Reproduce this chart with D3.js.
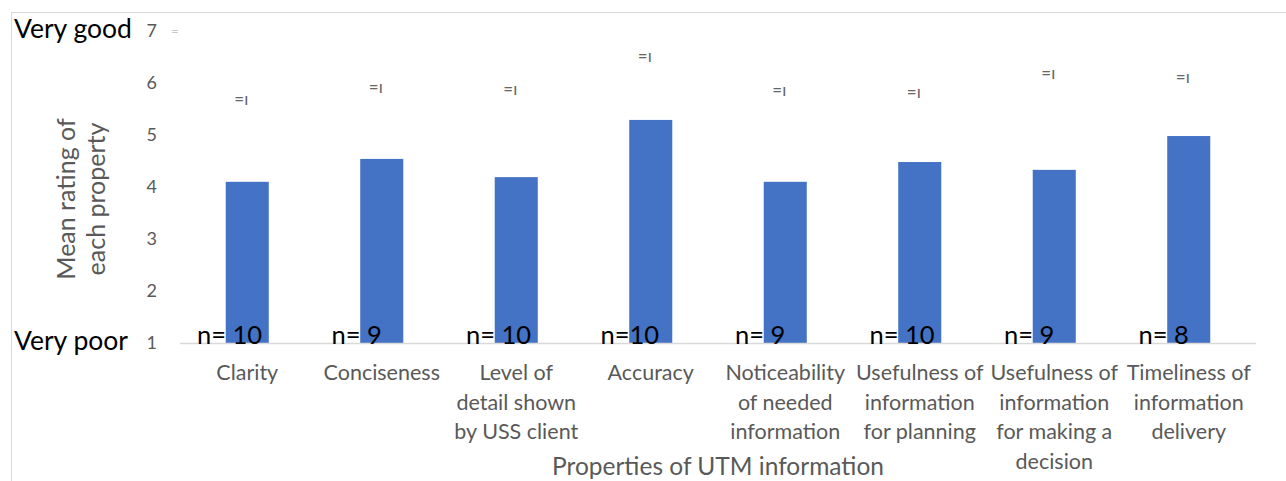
<!DOCTYPE html>
<html><head><meta charset="utf-8">
<script src="https://cdn.jsdelivr.net/npm/d3@7"></script>
<style>body{margin:0;background:#fff;} svg{display:block;font-family:Lato,"Open Sans",sans-serif;}</style>
</head><body><svg id="c" width="1286" height="481"></svg>
<script>
const categories = [
  ["Clarity"],
  ["Conciseness"],
  ["Level of","detail shown","by USS client"],
  ["Accuracy"],
  ["Noticeability","of needed","information"],
  ["Usefulness of","information","for planning"],
  ["Usefulness of","information","for making a","decision"],
  ["Timeliness of","information","delivery"]
];
const meanRating = [4.10, 4.54, 4.19, 5.29, 4.10, 4.48, 4.33, 4.98];
const nLabels = ["n= 10","n= 9","n= 10","n=10","n= 9","n= 10","n= 9","n= 8"];
const markValues = [5.69, 5.93, 5.88, 6.51, 5.87, 5.83, 6.20, 6.12];
const yTicks = [1,2,3,4,5,6,7];
const yEndLabels = [{v:7, t:"Very good"}, {v:1, t:"Very poor"}];

const svg = d3.select("#c");
svg.append("rect").attr("x",11.5).attr("y",12.5).attr("width",1300).attr("height",500)
  .attr("fill","none").attr("stroke","#d9d9d9").attr("stroke-width",1);

const x = d3.scaleBand().domain(d3.range(categories.length)).range([180,1256]).paddingInner(0).paddingOuter(0);
const y = d3.scaleLinear().domain([1,7]).range([343,31]);
const bw = x.bandwidth()*0.32;

// bars
svg.selectAll("rect.bar").data(meanRating).join("rect").attr("class","bar")
  .attr("x",(d,i)=>x(i)+x.bandwidth()/2-bw/2).attr("width",bw)
  .attr("y",d=>y(d)).attr("height",d=>y(1)-y(d)).attr("fill","#4472C4");

// x axis line
svg.append("line").attr("x1",180).attr("x2",1256).attr("y1",y(1)+0.5).attr("y2",y(1)+0.5)
  .attr("stroke","#d9d9d9").attr("stroke-width",1.3);

// y tick labels
const yAxis = d3.axisLeft(y).tickValues(yTicks).tickSize(0).tickPadding(0).tickFormat(d3.format("d"));
const ga = svg.append("g").attr("transform","translate(157,0)").call(yAxis);
ga.select(".domain").remove();
ga.selectAll("text").attr("font-size",18).attr("fill","#595959").attr("font-family","Lato,sans-serif");

// end labels
svg.selectAll("text.endl").data(yEndLabels).join("text").attr("class","endl")
  .attr("x",14).attr("y",d=>y(d.v)+7)
  .attr("font-size",26.5).attr("fill","#000").text(d=>d.t);

// y axis title
const yt = svg.append("text").attr("transform","translate(75,199) rotate(-90)")
  .attr("text-anchor","middle").attr("font-size",25).attr("fill","#595959");
yt.append("tspan").attr("x",0).attr("y",0).text("Mean rating of");
yt.append("tspan").attr("x",0).attr("y",30).text("each property");

// category labels
svg.selectAll("text.cat").data(categories).join("text").attr("class","cat")
  .attr("text-anchor","middle").attr("font-size",21.5).attr("fill","#595959")
  .each(function(lines,i){
    const t=d3.select(this);
    lines.forEach((l,j)=>t.append("tspan").attr("x",x(i)+x.bandwidth()/2).attr("y",380+j*29.5).text(l));
  });

// x axis title
svg.append("text").attr("x",718).attr("y",475).attr("text-anchor","middle")
  .attr("font-size",24.5).attr("fill","#595959").text("Properties of UTM information");

// n labels
svg.selectAll("text.n").data(nLabels).join("text").attr("class","n")
  .attr("x",(d,i)=>x(i)+17).attr("y",y(1)+1).attr("font-size",25.5).attr("fill","#000").text(d=>d);

// tiny marks
svg.selectAll("text.mk").data(markValues).join("text").attr("class","mk")
  .attr("x",(d,i)=>x(i)+x.bandwidth()/2+1).attr("y",d=>y(d)).attr("dy","0.35em")
  .attr("text-anchor","end").attr("font-size",17).attr("fill","#666").text("=ı");
svg.append("text").attr("x",171).attr("y",y(7)).attr("dy","0.35em").attr("font-size",13).attr("fill","#c8c8c8").text("=");
</script></body></html>
